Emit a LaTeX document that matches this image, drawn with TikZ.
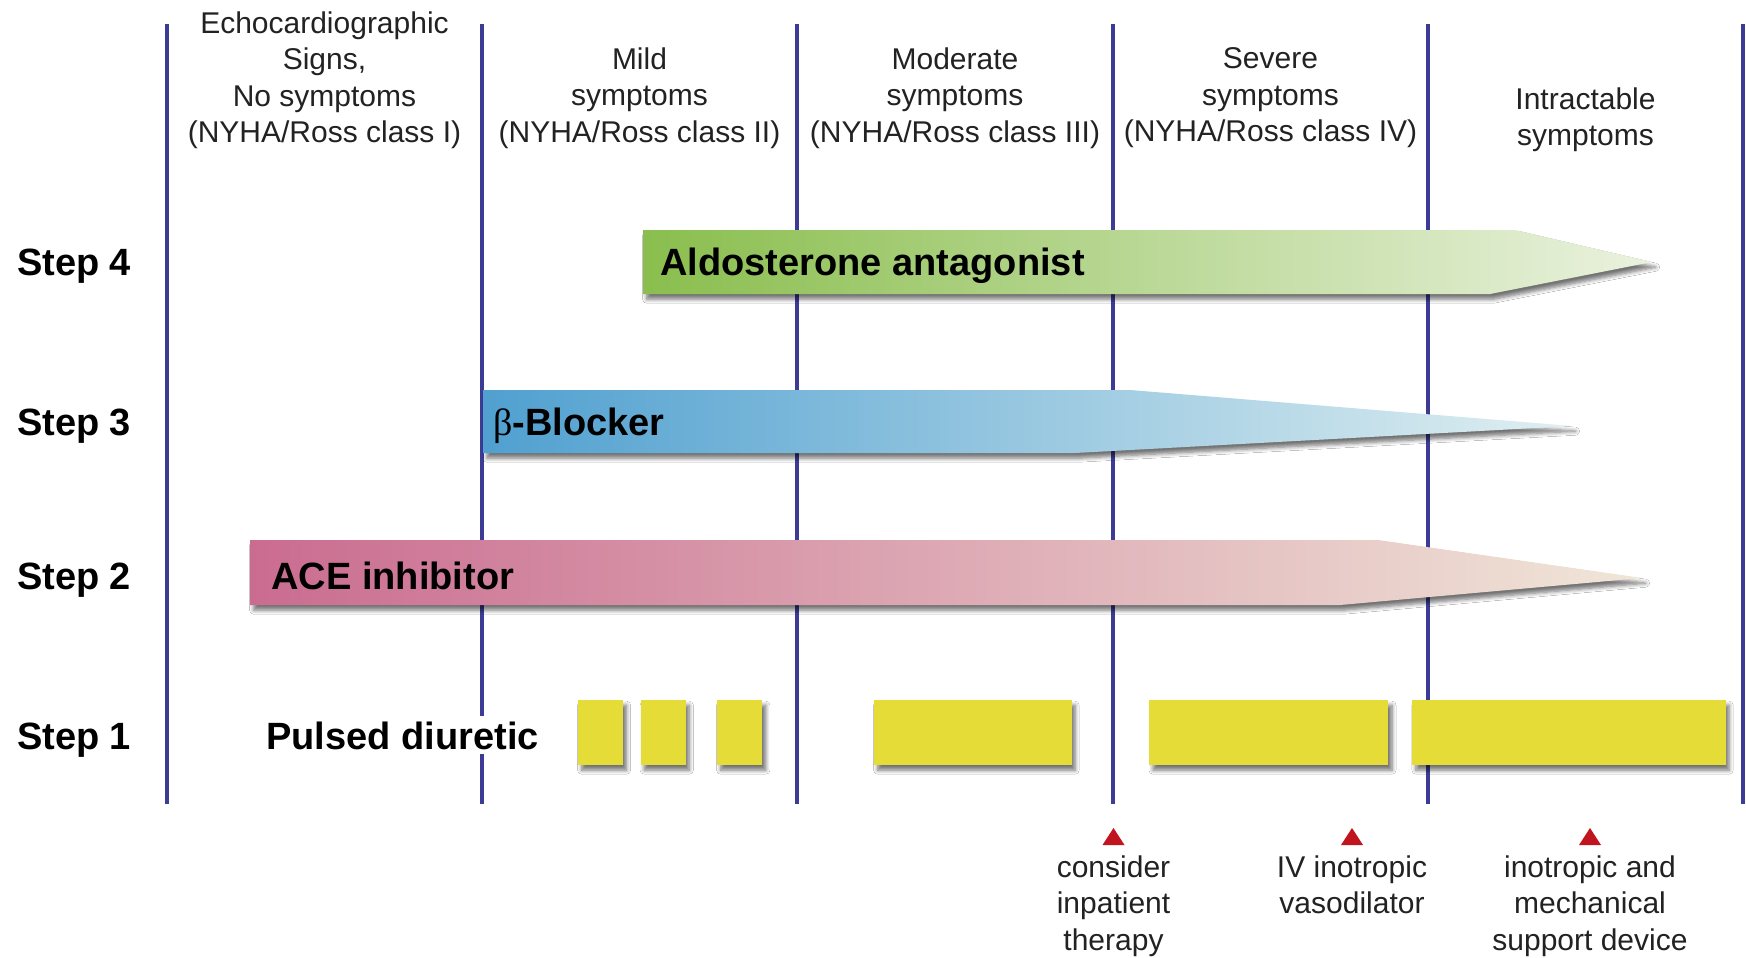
\documentclass[tikz,border=0pt]{standalone}
\usepackage{fontspec}
\setmainfont{Liberation Sans}
\newfontfamily\greekfont{Liberation Serif}
\usetikzlibrary{shadows.blur}

\definecolor{gridblue}{RGB}{60,60,150}
\definecolor{txt}{RGB}{34,34,34}
\definecolor{greenL}{RGB}{138,190,78}
\definecolor{greenM}{RGB}{192,220,152}
\definecolor{greenR}{RGB}{234,242,222}
\definecolor{blueL}{RGB}{80,160,208}
\definecolor{blueM}{RGB}{136,192,214}
\definecolor{blueR}{RGB}{224,239,241}
\definecolor{pinkL}{RGB}{202,108,144}
\definecolor{pinkM}{RGB}{218,172,184}
\definecolor{pinkR}{RGB}{240,230,216}
\definecolor{pulse}{RGB}{230,220,55}
\definecolor{alert}{RGB}{192,20,30}

\tikzset{
  stage/.style={draw=gridblue, line width=1.75pt},
  header/.style={font=\fontsize{15}{18.1}\selectfont, text=txt, align=center,
    anchor=north, inner sep=0pt,
    execute at begin node=\strut, execute at end node=\strut},
  steplabel/.style={font=\bfseries\fontsize{19}{22}\selectfont, text=black,
    anchor=base west, inner sep=0pt},
  barshadow/.style={blur shadow={shadow xshift=1.8pt, shadow yshift=-2.6pt,
    shadow blur radius=2pt, shadow blur steps=6, shadow opacity=55}},
  pulsebox/.style={fill=pulse, barshadow},
  marker/.style={fill=alert}
}

\begin{document}
\begin{tikzpicture}[x=0.5pt, y=-0.5pt]
  \useasboundingbox[fill=white] (0,0) rectangle (1746,958);

  % stage dividers
  \foreach \x in {167,482,797,1113,1428,1743}
    \draw[stage] (\x,24) -- (\x,804);

  % column headings
  \node[header] (h1) at (324.5,11.5) {Echocardiographic\\Signs,\\No symptoms\\(NYHA/Ross class I)};
  \node[header] (h2) at (639.5,47.5) {Mild\\symptoms\\(NYHA/Ross class II)};
  \node[header] (h3) at (955,47.5) {Moderate\\symptoms\\(NYHA/Ross class III)};
  \node[header] (h4) at (1270.5,47.5) {Severe\\symptoms\\(NYHA/Ross class IV)};
  \node[header] (h5) at (1585.5,87.5) {Intractable\\symptoms};

  % therapy arrows
  \shade[barshadow, left color=greenL, middle color=greenM, right color=greenR]
    (643,230) -- (1515,230) -- (1652,262) -- (1490,294) -- (643,294) -- cycle;
  \shade[barshadow, left color=blueL, middle color=blueM, right color=blueR]
    (483,390) -- (1130,390) -- (1572,426) -- (1075,453) -- (483,453) -- cycle;
  \shade[barshadow, left color=pinkL, middle color=pinkM, right color=pinkR]
    (250,540) -- (1378,540) -- (1642,578) -- (1340,605) -- (250,605) -- cycle;

  % pulsed diuretic courses
  \fill[pulsebox] (578,700) rectangle (623,765);
  \fill[pulsebox] (640.5,700) rectangle (685.7,765);
  \fill[pulsebox] (717,700) rectangle (762.3,765);
  \fill[pulsebox] (874,700) rectangle (1071.5,765);
  \fill[pulsebox] (1149.4,700) rectangle (1388.4,765);
  \fill[pulsebox] (1412.3,700) rectangle (1725.5,765);

  % step labels
  \node[steplabel] (s4) at (16.7,275) {Step 4};
  \node[steplabel] (s3) at (16.7,435) {Step 3};
  \node[steplabel] (s2) at (16.7,589) {Step 2};
  \node[steplabel] (s1) at (16.7,749) {Step 1};

  % drug labels
  \node[steplabel] (d4) at (660,275) {Aldosterone antagonist};
  \node[steplabel] (d3) at (493,435) {{\greekfont\mdseries β}-Blocker};
  \node[steplabel] (d2) at (271,589) {ACE inhibitor};
  \node[steplabel, fill=white, inner ysep=2.5pt] (d1) at (266,749) {Pulsed diuretic};

  % escalation markers
  \foreach \x/\n in {1113.5/m1,1352/m2,1590/m3}
    \fill[marker] (\x,828) coordinate (\n) -- (\x+11,845) -- (\x-11,845) -- cycle;

  \node[header] (n1) at (1113.5,855.5) {consider\\inpatient\\therapy};
  \node[header] (n2) at (1352,855.5) {IV inotropic\\vasodilator};
  \node[header] (n3) at (1590,855.5) {inotropic and\\mechanical\\support device};
\end{tikzpicture}
\end{document}
